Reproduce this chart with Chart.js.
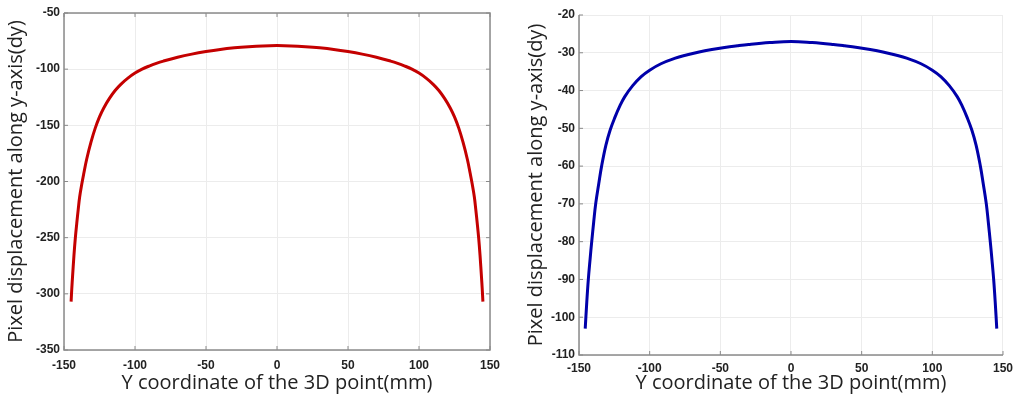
<!DOCTYPE html>
<html>
<head>
<meta charset="utf-8">
<script src="https://cdn.jsdelivr.net/npm/chart.js@4/dist/chart.umd.min.js"></script>
<style>
  html, body { margin: 0; padding: 0; background: #fff; }
  #wrap { position: relative; width: 1019px; height: 402px; overflow: hidden; }
  .box { position: absolute; top: 0; height: 402px; }
  #boxL { left: 0; width: 510px; }
  #boxR { left: 510px; width: 509px; }
</style>
</head>
<body>
<div id="wrap">
  <div class="box" id="boxL"><canvas id="leftChart"></canvas></div>
  <div class="box" id="boxR"><canvas id="rightChart"></canvas></div>
</div>
<script>
// ===== DATA =====
const xTicks = [-150, -100, -50, 0, 50, 100, 150];
const yTicksLeft = [-350, -300, -250, -200, -150, -100, -50];
const yTicksRight = [-110, -100, -90, -80, -70, -60, -50, -40, -30, -20];

// red curve (left panel)
const redX = [-145, -144.5, -144, -143, -142, -141, -140, -139, -137.5, -136, -134, -131, -128, -125, -122, -118, -114, -110, -105, -100,
  -95, -90, -85, -80, -70, -60, -50, -40, -30, -20, -10, 0,
  10, 20, 30, 40, 50, 60, 70, 80, 85, 90, 95,
  100, 105, 110, 114, 118, 122, 125, 128, 131, 134, 136, 137.5, 139, 140, 141, 142, 143, 144, 144.5, 145];
const redY = [-307, -295, -285, -266, -250, -237, -225, -214, -202.5, -192.5, -180, -165, -152.5, -142.5, -134.5, -126, -119, -113.5, -108, -103.5,
  -100, -97.2, -94.8, -92.8, -89.4, -86.6, -84.3, -82.4, -81, -80, -79.3, -79,
  -79.3, -80, -81, -82.4, -84.3, -86.6, -89.4, -92.8, -94.8, -97.2, -100,
  -103.5, -108, -113.5, -119, -126, -134.5, -142.5, -152.5, -165, -180, -192.5, -202.5, -214, -225, -237, -250, -266, -285, -295, -307];

// blue curve (right panel)
const blueX = [-145.6, -144.5, -143.4, -142.2, -141, -139.6, -138.2, -136, -134, -131, -128, -124.6, -121, -117.6, -112, -106, -100,
  -92, -82.4, -74, -65, -56, -47, -38, -30, -15, 0,
  15, 30, 38, 47, 56, 65, 74, 82.4, 92,
  100, 106, 112, 117.6, 121, 124.6, 128, 131, 134, 136, 138.2, 139.6, 141, 142.2, 143.4, 144.5, 145.6];
const blueY = [-103, -96, -90, -84.8, -80, -74.8, -70, -64.6, -60, -54.5, -50.5, -47.1, -44, -41.6, -38.7, -36.3, -34.6,
  -32.9, -31.5, -30.6, -29.8, -29.15, -28.6, -28.15, -27.8, -27.3, -27,
  -27.3, -27.8, -28.15, -28.6, -29.15, -29.8, -30.6, -31.5, -32.9,
  -34.6, -36.3, -38.7, -41.6, -44, -47.1, -50.5, -54.5, -60, -64.6, -70, -74.8, -80, -84.8, -90, -96, -103];

const xTitle = "Y coordinate of the 3D point(mm)";
const yTitle = "Pixel displacement along y-axis(dy)";

// ===== STYLE =====
const AXIS_COLOR = "#8a8a8a";
const GRID_COLOR = "#ececec";
const TICK_FONT = { family: "Liberation Sans", size: 12, weight: "bold" };
const TITLE_FONT = { family: "Open Sans", size: 20 };

function toPoints(xs, ys) {
  return xs.map((x, i) => ({ x: x, y: ys[i] }));
}

// frame + inward tick marks, matlab look
function framePlugin(fullBox) {
  return {
    id: "frame",
    afterDraw(chart) {
      const { ctx, chartArea: a, scales } = chart;
      ctx.save();
      ctx.strokeStyle = AXIS_COLOR;
      ctx.lineWidth = 1.5;
      ctx.beginPath();
      ctx.moveTo(a.left, a.top);
      ctx.lineTo(a.left, a.bottom);
      ctx.lineTo(a.right, a.bottom);
      if (fullBox) {
        ctx.lineTo(a.right, a.top);
        ctx.lineTo(a.left, a.top);
      }
      ctx.stroke();

      ctx.lineWidth = 1;
      ctx.beginPath();
      scales.x.ticks.forEach(t => {
        const px = scales.x.getPixelForValue(t.value);
        ctx.moveTo(px, a.bottom);
        ctx.lineTo(px, a.bottom - 4);
        if (fullBox) {
          ctx.moveTo(px, a.top);
          ctx.lineTo(px, a.top + 4);
        }
      });
      scales.y.ticks.forEach(t => {
        const py = scales.y.getPixelForValue(t.value);
        ctx.moveTo(a.left, py);
        ctx.lineTo(a.left + 4, py);
        if (fullBox) {
          ctx.moveTo(a.right, py);
          ctx.lineTo(a.right - 4, py);
        }
      });
      ctx.stroke();
      ctx.restore();
    }
  };
}

function makeChart(id, cfg) {
  return new Chart(document.getElementById(id).getContext("2d"), {
    type: "line",
    data: {
      datasets: [{
        data: toPoints(cfg.xs, cfg.ys),
        borderColor: cfg.color,
        borderWidth: 3,
        pointRadius: 0,
        tension: 0.4,
        fill: false
      }]
    },
    options: {
      responsive: true,
      maintainAspectRatio: false,
      animation: false,
      events: [],
      layout: { padding: cfg.padding },
      plugins: { legend: { display: false }, tooltip: { enabled: false } },
      scales: {
        x: {
          type: "linear",
          min: -150, max: 150,
          afterBuildTicks: s => { s.ticks = xTicks.map(v => ({ value: v })); },
          afterFit: s => { s.height = cfg.xHeight; },
          grid: { color: GRID_COLOR, drawTicks: false },
          border: { display: false },
          ticks: { font: TICK_FONT, color: "#222", padding: cfg.xTickPad, maxRotation: 0 },
          title: { display: true, text: xTitle, font: TITLE_FONT, color: "#222", padding: { top: 0, bottom: 7 } }
        },
        y: {
          min: cfg.yTicks[0], max: cfg.yTicks[cfg.yTicks.length - 1],
          afterBuildTicks: s => { s.ticks = cfg.yTicks.map(v => ({ value: v })); },
          afterFit: s => { s.width = cfg.yWidth; },
          grid: { color: GRID_COLOR, drawTicks: false },
          border: { display: false },
          ticks: { font: TICK_FONT, color: "#222", padding: 4 },
          title: { display: true, text: yTitle, font: TITLE_FONT, color: "#222", padding: { top: 4, bottom: 0 } }
        }
      }
    },
    plugins: [framePlugin(cfg.fullBox)]
  });
}

makeChart("leftChart", {
  xs: redX, ys: redY, color: "#c40000",
  yTicks: yTicksLeft,
  padding: { top: 13, right: 20, left: 0, bottom: 0 },
  yWidth: 64, xHeight: 52, xTickPad: 8,
  fullBox: true
});

makeChart("rightChart", {
  xs: blueX, ys: blueY, color: "#0000aa",
  yTicks: yTicksRight,
  padding: { top: 15, right: 14, left: 10, bottom: 0 },
  yWidth: 59, xHeight: 47, xTickPad: 6,
  fullBox: false
});
</script>
</body>
</html>
